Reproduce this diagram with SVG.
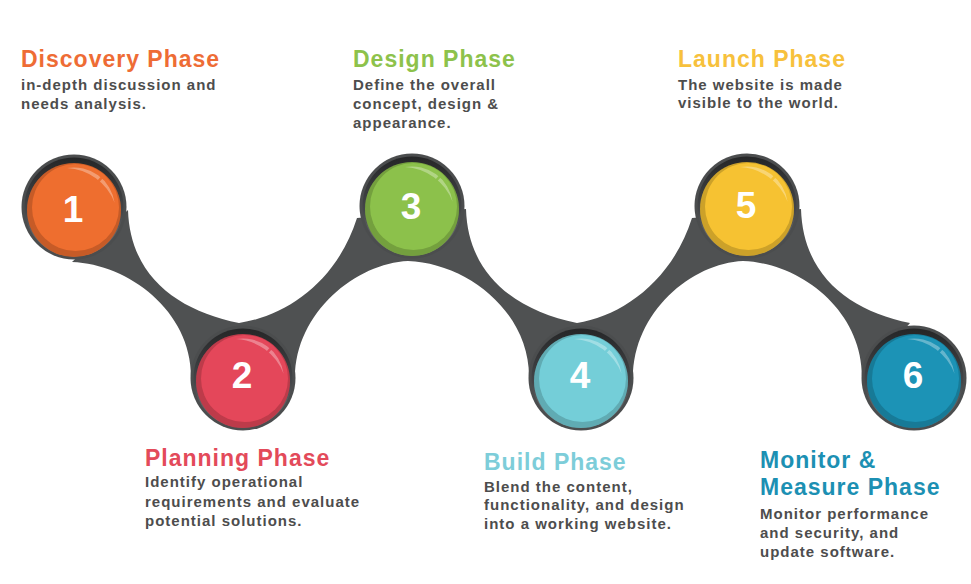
<svg xmlns="http://www.w3.org/2000/svg" xmlns:xlink="http://www.w3.org/1999/xlink" width="971" height="584" viewBox="0 0 971 584">
  <defs>
    <linearGradient id="rimGrad" x1="0" y1="0" x2="0" y2="1">
      <stop offset="0" stop-color="#252627"/>
      <stop offset="0.55" stop-color="#45474a"/>
      <stop offset="1" stop-color="#7a7c7e"/>
    </linearGradient>
    <g id="ballFrame">
      <circle r="52.5" fill="#4b4d4e"/>
      <circle r="49.5" fill="url(#rimGrad)"/>
    </g>
    <g id="ballBody">
      <circle cy="1.5" r="47" fill="currentColor"/>
      <circle cy="1.5" r="47" fill="#000" opacity="0.17"/>
      <circle cx="1.5" cy="-1" r="43.5" fill="currentColor"/>
      <path d="M -7.1 -40.4 A 41 41 0 0 1 40.6 -5.7 A 54 54 0 0 0 -7.1 -40.4 Z" fill="#fff" opacity="0.32"/>
      <line x1="24.1" y1="-26.8" x2="29.5" y2="-32.8" stroke="currentColor" stroke-width="2.5"/>
    </g>
  </defs>
  <style>
    .band { fill: #4f5152; }
    .num { font-family: "Liberation Sans", Arial, sans-serif; font-weight: bold; font-size: 37px; fill: #ffffff; text-anchor: middle; }
    .title { font-family: "Liberation Sans", Arial, sans-serif; font-weight: bold; font-size: 23px; letter-spacing: 1px; }
    .body { font-family: "Liberation Sans", Arial, sans-serif; font-weight: bold; font-size: 15px; letter-spacing: 1px; fill: #4d4d4d; }
  </style>
  <rect width="971" height="584" fill="#ffffff"/>

  <g id="connectors">
    <path class="band" d="M 128 210
      C 130 277 179 311 239 323
      C 287 316 337 281 357 218
      L 466 209
      C 468 276 517 311 577 323
      C 622 316 672 281 692 218
      L 801 209
      C 803 276 850 311 910 323
      L 862 378
      C 863 312 802 263 743 261
      C 692 263 633 312 633 378
      L 529 378
      C 530 312 467 263 408 261
      C 357 263 295 312 295 378
      L 191 378
      C 192 312 129 264 72 262
      Z"/>
  </g>

  <g id="node-1" style="color:#ee6e2f">
    <use xlink:href="#ballFrame" transform="translate(74 207)"/>
    <use xlink:href="#ballBody" transform="translate(74 208.5)"/>
    <text class="num" x="73" y="221.5">1</text>
    <text class="title" x="21" y="67" fill="#ee6c35">Discovery Phase</text>
    <text class="body" x="21" y="90">in-depth discussion and</text>
    <text class="body" x="21" y="108.7">needs analysis.</text>
  </g>

  <g id="node-2" style="color:#e4475a">
    <use xlink:href="#ballFrame" transform="translate(243 378)"/>
    <use xlink:href="#ballBody" transform="translate(243 379.5)"/>
    <text class="num" x="242" y="388">2</text>
    <text class="title" x="145" y="466" fill="#e34a5a">Planning Phase</text>
    <text class="body" x="145" y="487.3">Identify operational</text>
    <text class="body" x="145" y="506.5">requirements and evaluate</text>
    <text class="body" x="145" y="525.8">potential solutions.</text>
  </g>

  <g id="node-3" style="color:#8cc14b">
    <use xlink:href="#ballFrame" transform="translate(412 206)"/>
    <use xlink:href="#ballBody" transform="translate(412 207.5)"/>
    <text class="num" x="411" y="218.5">3</text>
    <text class="title" x="353" y="67" fill="#8dc24b">Design Phase</text>
    <text class="body" x="353" y="90">Define the overall</text>
    <text class="body" x="353" y="108.8">concept, design &amp;</text>
    <text class="body" x="353" y="127.5">appearance.</text>
  </g>

  <g id="node-4" style="color:#74ced8">
    <use xlink:href="#ballFrame" transform="translate(581 378)"/>
    <use xlink:href="#ballBody" transform="translate(581 379.5)"/>
    <text class="num" x="580" y="388">4</text>
    <text class="title" x="484" y="470" fill="#7dcdd9">Build Phase</text>
    <text class="body" x="484" y="491.5">Blend the content,</text>
    <text class="body" x="484" y="510">functionality, and design</text>
    <text class="body" x="484" y="528.5">into a working website.</text>
  </g>

  <g id="node-5" style="color:#f6c232">
    <use xlink:href="#ballFrame" transform="translate(747 206)"/>
    <use xlink:href="#ballBody" transform="translate(747 207.5)"/>
    <text class="num" x="746" y="218">5</text>
    <text class="title" x="678" y="67" fill="#f7c13c">Launch Phase</text>
    <text class="body" x="678" y="89.5">The website is made</text>
    <text class="body" x="678" y="108">visible to the world.</text>
  </g>

  <g id="node-6" style="color:#1c93b6">
    <use xlink:href="#ballFrame" transform="translate(914 378)"/>
    <use xlink:href="#ballBody" transform="translate(914 379.5)"/>
    <text class="num" x="913" y="388">6</text>
    <text class="title" x="760" y="468" fill="#1c90b3">Monitor &amp;</text>
    <text class="title" x="760" y="495" fill="#1c90b3">Measure Phase</text>
    <text class="body" x="760" y="519.3">Monitor performance</text>
    <text class="body" x="760" y="538.3">and security, and</text>
    <text class="body" x="760" y="557.3">update software.</text>
  </g>
</svg>
